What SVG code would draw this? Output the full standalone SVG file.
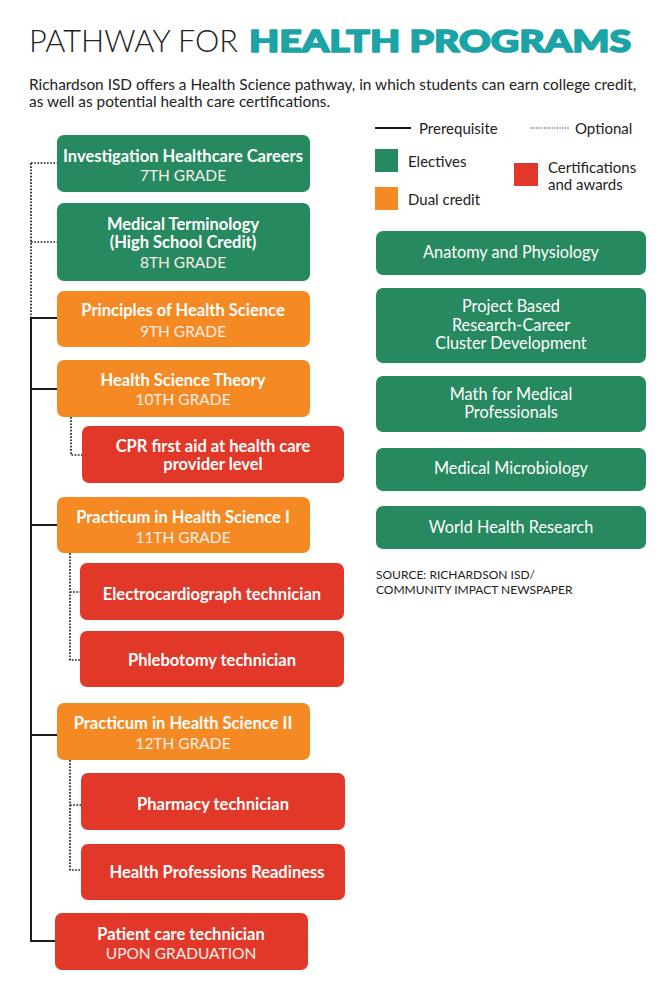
<svg xmlns="http://www.w3.org/2000/svg" width="670" height="1000" viewBox="0 0 670 1000">
<style>
  .bg{fill:#ffffff}
  .g{fill:#27895f}
  .o{fill:#f58a25}
  .r{fill:#e2382a}
  .t{font-family:Lato,"Open Sans","Liberation Sans",sans-serif;text-anchor:middle;fill:#ffffff;font-size:15.5px}
  .tb{font-weight:700;font-size:16.5px}
  .gr{font-weight:400;fill:#f4efe8}
  .rt{font-family:Lato,"Open Sans","Liberation Sans",sans-serif;text-anchor:middle;fill:#ffffff;font-size:16.3px;font-weight:400}
  .lg{font-family:Lato,"Open Sans","Liberation Sans",sans-serif;fill:#222222;font-size:15px}
  .sub{font-size:15.4px}
  .solid{stroke:#1a1a1a;stroke-width:2;fill:none}
  .dot{stroke:#222222;stroke-width:1.7;fill:none;stroke-dasharray:1.7 1.5}
</style>
<rect class="bg" x="0" y="0" width="670" height="1000"/>

<g id="title">
  <text x="29" y="52" font-family="Lato,'Open Sans','Liberation Sans',sans-serif" font-weight="300" font-size="31" fill="#222222" textLength="209" lengthAdjust="spacingAndGlyphs">PATHWAY FOR</text>
  <text x="249" y="52" font-family="Lato,'Open Sans','Liberation Sans',sans-serif" font-weight="900" font-size="31" fill="#1ba3a6" stroke="#1ba3a6" stroke-width="1.6" stroke-linejoin="round" textLength="382" lengthAdjust="spacingAndGlyphs">HEALTH PROGRAMS</text>
  <text class="lg sub" x="29" y="90">Richardson ISD offers a Health Science pathway, in which students can earn college credit,</text>
  <text class="lg sub" x="29" y="107">as well as potential health care certifications.</text>
</g>

<g id="connectors">
  <path class="dot" d="M31 163 H57 M31 163 V318 M31 242 H57"/>
  <path class="solid" d="M31 318 V941 M30 318 H57 M30 389 H57 M30 525 H57 M30 735 H57 M30 941 H55"/>
  <path class="dot" d="M71 417 V455 H82"/>
  <path class="dot" d="M70 553 V660 H80 M70 592 H80"/>
  <path class="dot" d="M70 760 V870 H81 M70 805 H81"/>
</g>

<g id="n-investigation">
  <rect class="g" x="57" y="135" width="253" height="57" rx="7"/>
  <text class="t tb" x="183" y="162">Investigation Healthcare Careers</text>
  <text class="t gr" x="183" y="181">7TH GRADE</text>
</g>
<g id="n-medterm">
  <rect class="g" x="57" y="203" width="253" height="78" rx="7"/>
  <text class="t tb" x="183" y="230">Medical Terminology</text>
  <text class="t tb" x="183" y="248">(High School Credit)</text>
  <text class="t gr" x="183" y="268">8TH GRADE</text>
</g>
<g id="n-principles">
  <rect class="o" x="57" y="291" width="253" height="56" rx="7"/>
  <text class="t tb" x="183" y="316">Principles of Health Science</text>
  <text class="t gr" x="183" y="337">9TH GRADE</text>
</g>
<g id="n-theory">
  <rect class="o" x="57" y="360" width="253" height="57" rx="7"/>
  <text class="t tb" x="183" y="386">Health Science Theory</text>
  <text class="t gr" x="183" y="405">10TH GRADE</text>
</g>
<g id="n-cpr">
  <rect class="r" x="82" y="426" width="262" height="57" rx="7"/>
  <text class="t tb" x="213" y="452">CPR first aid at health care</text>
  <text class="t tb" x="213" y="470">provider level</text>
</g>
<g id="n-practicum1">
  <rect class="o" x="57" y="497" width="253" height="56" rx="7"/>
  <text class="t tb" x="183" y="523">Practicum in Health Science I</text>
  <text class="t gr" x="183" y="543">11TH GRADE</text>
</g>
<g id="n-ecg">
  <rect class="r" x="80" y="563" width="264" height="57" rx="7"/>
  <text class="t tb" x="212" y="600">Electrocardiograph technician</text>
</g>
<g id="n-phleb">
  <rect class="r" x="80" y="631" width="264" height="56" rx="7"/>
  <text class="t tb" x="212" y="666">Phlebotomy technician</text>
</g>
<g id="n-practicum2">
  <rect class="o" x="57" y="703" width="253" height="57" rx="7"/>
  <text class="t tb" x="183" y="729">Practicum in Health Science II</text>
  <text class="t gr" x="183" y="749">12TH GRADE</text>
</g>
<g id="n-pharmacy">
  <rect class="r" x="81" y="773" width="264" height="57" rx="7"/>
  <text class="t tb" x="213" y="810">Pharmacy technician</text>
</g>
<g id="n-readiness">
  <rect class="r" x="81" y="844" width="264" height="56" rx="7"/>
  <text class="t tb" x="217" y="878">Health Professions Readiness</text>
</g>
<g id="n-patient">
  <rect class="r" x="55" y="913" width="253" height="57" rx="7"/>
  <text class="t tb" x="181" y="940">Patient care technician</text>
  <text class="t gr" x="181" y="959">UPON GRADUATION</text>
</g>

<g id="legend">
  <line class="solid" x1="375" y1="128" x2="411" y2="128"/>
  <text class="lg" x="419" y="134">Prerequisite</text>
  <line class="dot" x1="531" y1="128" x2="569" y2="128" style="stroke-width:1.2;stroke-dasharray:1.2 1.4"/>
  <text class="lg" x="575" y="134">Optional</text>
  <rect class="g" x="375" y="149" width="23" height="23"/>
  <text class="lg" x="408" y="167">Electives</text>
  <rect class="o" x="375" y="187" width="23" height="23"/>
  <text class="lg" x="408" y="205">Dual credit</text>
  <rect class="r" x="514" y="163" width="24" height="23"/>
  <text class="lg" x="548" y="173">Certifications</text>
  <text class="lg" x="548" y="190">and awards</text>
</g>

<g id="n-anatomy">
  <rect class="g" x="376" y="231" width="270" height="44" rx="7"/>
  <text class="rt" x="511" y="258">Anatomy and Physiology</text>
</g>
<g id="n-project">
  <rect class="g" x="376" y="288" width="270" height="75" rx="7"/>
  <text class="rt" x="511" y="312">Project Based</text>
  <text class="rt" x="511" y="331">Research-Career</text>
  <text class="rt" x="511" y="349">Cluster Development</text>
</g>
<g id="n-math">
  <rect class="g" x="376" y="376" width="270" height="56" rx="7"/>
  <text class="rt" x="511" y="400">Math for Medical</text>
  <text class="rt" x="511" y="418">Professionals</text>
</g>
<g id="n-micro">
  <rect class="g" x="376" y="448" width="270" height="43" rx="7"/>
  <text class="rt" x="511" y="474">Medical Microbiology</text>
</g>
<g id="n-world">
  <rect class="g" x="376" y="506" width="270" height="43" rx="7"/>
  <text class="rt" x="511" y="533">World Health Research</text>
</g>

<g id="source">
  <text x="376" y="579" font-family="Lato,'Open Sans','Liberation Sans',sans-serif" font-size="12" fill="#222222">SOURCE: RICHARDSON ISD/</text>
  <text x="376" y="594" font-family="Lato,'Open Sans','Liberation Sans',sans-serif" font-size="12" fill="#222222">COMMUNITY IMPACT NEWSPAPER</text>
</g>
</svg>
